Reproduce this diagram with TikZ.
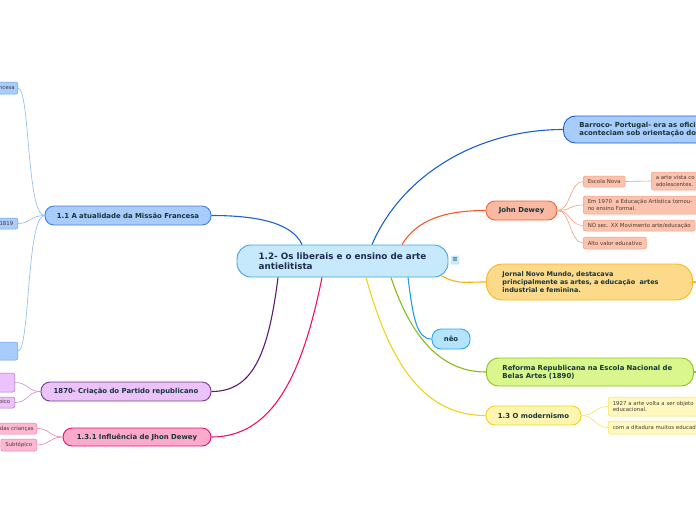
\documentclass[tikz,border=0pt]{standalone}
\usepackage{fontspec}
\setmainfont{DejaVu Sans}
\definecolor{maintxt}{HTML}{17343A}
\definecolor{ctxt}{HTML}{1E2B50}
\definecolor{subtxt}{HTML}{4A3A34}
\definecolor{cfill}{HTML}{C6EAFB}
\definecolor{cdraw}{HTML}{3EA5E0}
\definecolor{bfill}{HTML}{A8CCFB}
\definecolor{bdraw}{HTML}{3D7FE0}
\definecolor{blink}{HTML}{1A60D0}
\definecolor{bsub}{HTML}{6A9EE8}
\definecolor{bsublink}{HTML}{8AB8F0}
\definecolor{pfill}{HTML}{ECC2FB}
\definecolor{pdraw}{HTML}{7B3A8C}
\definecolor{plink}{HTML}{5C1A70}
\definecolor{psub}{HTML}{B070C0}
\definecolor{psublink}{HTML}{C090D0}
\definecolor{kfill}{HTML}{FCAACB}
\definecolor{kdraw}{HTML}{E8106C}
\definecolor{klink}{HTML}{F0106A}
\definecolor{ksubfill}{HTML}{FDB8D3}
\definecolor{ksub}{HTML}{F07AA8}
\definecolor{sfill}{HTML}{FAB9A3}
\definecolor{sdraw}{HTML}{F26434}
\definecolor{slink}{HTML}{F25A28}
\definecolor{ssubfill}{HTML}{FBC2AE}
\definecolor{ssub}{HTML}{F2A080}
\definecolor{gfill}{HTML}{FDD98A}
\definecolor{gdraw}{HTML}{F7B81F}
\definecolor{glink}{HTML}{F8B010}
\definecolor{nfill}{HTML}{B3E4FB}
\definecolor{ndraw}{HTML}{2FA7EA}
\definecolor{nlink}{HTML}{1AA0F0}
\definecolor{efill}{HTML}{D9F78C}
\definecolor{edraw}{HTML}{8CC221}
\definecolor{elink}{HTML}{8AB818}
\definecolor{yfill}{HTML}{FEF6B0}
\definecolor{ydraw}{HTML}{F2D41E}
\definecolor{ylink}{HTML}{EED41A}
\definecolor{ysubfill}{HTML}{FFF8BF}
\definecolor{ysub}{HTML}{F6E06A}
\tikzset{
  mainnode/.style={draw, line width=0.9pt, rounded corners=9pt,
    font=\fontsize{6.9}{8.2}\selectfont\bfseries, text=maintxt, inner sep=0pt},
  subnode/.style={draw, line width=0.5pt, rounded corners=2pt,
    font=\fontsize{5.4}{6.7}\selectfont, text=subtxt, inner xsep=4.5pt, inner ysep=0pt},
  link/.style={line width=1.1pt},
  sublink/.style={line width=0.6pt},
}
\begin{document}
\begin{tikzpicture}[x=1pt,y=-1pt]
\useasboundingbox (0,0) rectangle (696,520);
\clip (0,0) rectangle (696,520);

% central
\node[mainnode, fill=cfill, draw=cdraw, minimum width=211pt, minimum height=32pt,
  align=left, rounded corners=14pt, text=ctxt,
  font=\fontsize{8.8}{10.4}\selectfont\bfseries] (c) at (342.5,261)
  {1.2- Os liberais e o ensino de arte\\antielitista};
\node[fill=cfill, rounded corners=1pt, minimum width=8pt, minimum height=9pt, inner sep=0pt,
  text=ctxt, font=\fontsize{6.5}{6.5}\selectfont] (menu) at (455,260) {≡};

% left main nodes
\node[mainnode, fill=bfill, draw=bdraw, minimum width=166pt, minimum height=19pt] (n11) at (128,215.5)
  {1.1 A atualidade da Missão Francesa};
\node[mainnode, fill=pfill, draw=pdraw, minimum width=170pt, minimum height=19pt] (n1870) at (126,391.5)
  {1870- Criação do Partido republicano};
\node[mainnode, fill=kfill, draw=kdraw, minimum width=148pt, minimum height=18pt] (n131) at (137,437)
  {1.3.1 Influência de Jhon Dewey};

% right main nodes
\node[mainnode, fill=bfill, draw=blink, anchor=west, text width=140pt, inner xsep=16pt,
  minimum height=27pt, align=left, rounded corners=12pt] (bar) at (563,129.5)
  {Barroco- Portugal- era as ofici\\aconteciam sob orientação do};
\node[mainnode, fill=sfill, draw=sdraw, minimum width=71pt, minimum height=19pt] (jd) at (521.5,210.5)
  {John Dewey};
\node[mainnode, fill=gfill, draw=gdraw, anchor=west, text width=174pt, inner xsep=16pt,
  minimum height=36pt, align=left, rounded corners=16pt,
  font=\fontsize{6.5}{8}\selectfont\bfseries] (jn) at (486,282)
  {Jornal Novo Mundo, destacava\\principalmente as artes, a educação\ \ artes\\industrial e feminina.};
\node[mainnode, fill=nfill, draw=ndraw, minimum width=38pt, minimum height=20pt] (neo) at (451,339)
  {nêo};
\node[mainnode, fill=efill, draw=edraw, anchor=west, text width=175pt, inner xsep=16pt,
  minimum height=28pt, align=left, rounded corners=12pt] (ref) at (486,372)
  {Reforma Republicana na Escola Nacional de\\Belas Artes (1890)};
\node[mainnode, fill=yfill, draw=ydraw, minimum width=95pt, minimum height=19pt] (mod) at (533.5,415.5)
  {1.3 O modernismo};

% left sub nodes
\node[subnode, fill=bfill, draw=bsub, anchor=east, text width=32pt, inner xsep=3pt, align=right, minimum height=12pt] (s1) at (18,88) {ncesa};
\node[subnode, fill=bfill, draw=bsub, anchor=east, text width=30pt, align=right, minimum height=11pt] (s2) at (18,223.5) {1819};
\node[subnode, fill=bfill, draw=bsub, anchor=east, minimum width=40pt, minimum height=18pt] (s3) at (18,351) {};
\node[subnode, fill=pfill, draw=psub, anchor=east, minimum width=40pt, minimum height=19pt] (p1) at (15,382.5) {};
\node[subnode, fill=pfill, draw=psub, anchor=east, text width=30pt, align=right, minimum height=11pt] (p2) at (15,402.5) {pico};
\node[subnode, fill=ksubfill, draw=ksub, anchor=east, text width=52pt, inner xsep=3pt, align=right, minimum height=11pt] (k1) at (37,428.5) {das crianças};
\node[subnode, fill=ksubfill, draw=ksub, anchor=east, minimum height=12pt] (k2) at (37,445) {Subtópico};

% right sub nodes
\node[subnode, fill=ssubfill, draw=ssub, anchor=west, minimum height=11pt] (jd1) at (583,181.5) {Escola Nova};
\node[subnode, fill=ssubfill, draw=ssub, anchor=west, text width=60pt, align=left, minimum height=18pt] (jd1a) at (651,181)
  {a arte vista co\\adolescentes.};
\node[subnode, fill=ssubfill, draw=ssub, anchor=west, text width=122pt, align=left, minimum height=18pt] (jd2) at (583,205)
  {Em 1970\ \ a Educação Artística tornou-\\no ensino Formal.};
\node[subnode, fill=ssubfill, draw=ssub, anchor=west, minimum height=11pt] (jd3) at (583,225.5) {NO sec. XX Movimento arte/educação};
\node[subnode, fill=ssubfill, draw=ssub, anchor=west, minimum height=12pt] (jd4) at (583,243) {Alto valor educativo};
\node[subnode, fill=ysubfill, draw=ysub, anchor=west, text width=100pt, align=left, minimum height=19pt] (m1) at (608,406.5)
  {1927 a arte volta a ser objeto\\educacional.};
\node[subnode, fill=ysubfill, draw=ysub, anchor=west, text width=100pt, align=left, minimum height=13pt] (m2) at (608,427.5)
  {com a ditadura muitos educad};

\coordinate (jnout) at (697,282);
\coordinate (refout) at (697,372);

% main connectors
\draw[link, draw=blink] ([xshift=29.5pt]c.north) .. controls +(30,-70) and +(-85,0) .. (bar.west);
\draw[link, draw=blink] ([xshift=-40.5pt]c.north) .. controls +(-10,-22) and +(45,0) .. (n11.east);
\draw[link, draw=slink] ([xshift=59.5pt]c.north) .. controls +(15,-25) and +(-40,0) .. (jd.west);
\draw[link, draw=glink] ([xshift=-8pt,yshift=2pt]c.south east) .. controls +(18,9) and +(-25,0) .. (jn.west);
\draw[link, draw=nlink] ([xshift=65.5pt]c.south) .. controls +(5,40) and +(-15,0) .. (neo.west);
\draw[link, draw=elink] ([xshift=48.5pt]c.south) .. controls +(20,60) and +(-45,0) .. (ref.west);
\draw[link, draw=ylink] ([xshift=23.5pt]c.south) .. controls +(25,90) and +(-60,0) .. (mod.west);
\draw[link, draw=klink] ([xshift=-20.5pt]c.south) .. controls +(-20,100) and +(60,0) .. (n131.east);
\draw[link, draw=plink] ([xshift=-64.5pt]c.south) .. controls +(-10,80) and +(40,0) .. (n1870.east);
\draw[link, draw=gdraw] (jn.east) -- (jnout);
\draw[link, draw=edraw] (ref.east) -- (refout);

% sub connectors
\draw[sublink, draw=bsublink] (n11.west) .. controls +(-18,0) and +(12,0) .. (s1.east);
\draw[sublink, draw=bsublink] (n11.west) .. controls +(-14,0) and +(12,0) .. (s2.east);
\draw[sublink, draw=bsublink] (n11.west) .. controls +(-18,0) and +(12,0) .. (s3.east);
\draw[sublink, draw=psublink] (n1870.west) .. controls +(-13,0) and +(13,0) .. (p1.east);
\draw[sublink, draw=psublink] (n1870.west) .. controls +(-13,0) and +(13,0) .. (p2.east);
\draw[sublink, draw=ksub] (n131.west) .. controls +(-13,0) and +(13,0) .. (k1.east);
\draw[sublink, draw=ksub] (n131.west) .. controls +(-13,0) and +(13,0) .. (k2.east);
\draw[sublink, draw=ssub] (jd.east) .. controls +(13,0) and +(-13,0) .. (jd1.west);
\draw[sublink, draw=ssub] (jd.east) .. controls +(13,0) and +(-13,0) .. (jd2.west);
\draw[sublink, draw=ssub] (jd.east) .. controls +(13,0) and +(-13,0) .. (jd3.west);
\draw[sublink, draw=ssub] (jd.east) .. controls +(13,0) and +(-13,0) .. (jd4.west);
\draw[sublink, draw=ssub] (jd1.east) -- (jd1a.west);
\draw[sublink, draw=ysub] (mod.east) .. controls +(13,0) and +(-13,0) .. (m1.west);
\draw[sublink, draw=ysub] (mod.east) .. controls +(13,0) and +(-13,0) .. (m2.west);
\end{tikzpicture}
\end{document}
